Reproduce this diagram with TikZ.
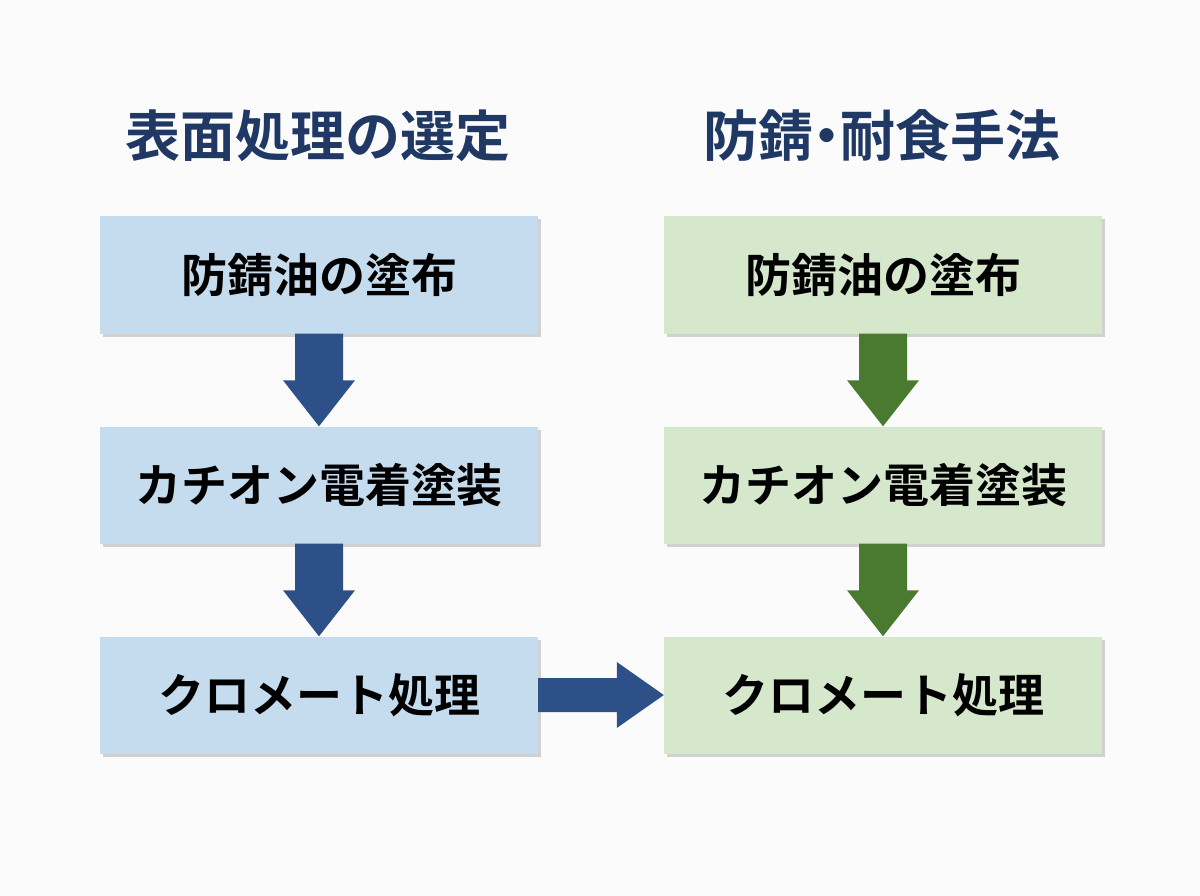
\documentclass[tikz,border=0pt]{standalone}
\usetikzlibrary{calc}
\usepackage{fontspec}
\newfontfamily\cjk{Noto Sans CJK JP}[BoldFont={* Bold}]
\definecolor{bfill}{HTML}{C5DCEF}
\definecolor{gfill}{HTML}{D6E8CB}
\definecolor{barr}{HTML}{2E5088}
\definecolor{garr}{HTML}{4A7A30}
\definecolor{ttl}{HTML}{1F3864}
\begin{document}
\begin{tikzpicture}[x=1pt,y=-1pt,
  box/.style={minimum width=438pt,minimum height=117pt,inner sep=0pt,font=\cjk\bfseries\fontsize{46}{50}\selectfont,
    preaction={fill=black!18,transform canvas={shift={(3pt,-3pt)}}}},
  ttl/.style={font=\cjk\bfseries\fontsize{55}{60}\selectfont,text=ttl}]
\fill[white!97!gray] (0,0) rectangle (1200,896);
\useasboundingbox (0,0) rectangle (1200,896);
\node[ttl] (t1) at (318,136) {表面処理の選定};
\node[ttl] (t2) at (882,136) {防錆\kern-0.25em・\kern-0.25em 耐食手法};
\foreach \n/\y/\t in {1/275/防錆油の塗布,2/485/カチオン電着塗装,3/695/クロメート処理}{
  \node[box,fill=bfill] (l\n) at (319,\y) {\t};
  \node[box,fill=gfill] (r\n) at (883,\y) {\t};
}
\foreach \a/\b/\x/\c in {l1/l2/319/barr,l2/l3/319/barr,r1/r2/883/garr,r2/r3/883/garr}{
  \path (\a.south) coordinate (s) (\b.north) coordinate (e);
  \fill[\c] ($(s)+(-24,0)$) -- ($(s)+(24,0)$) -- ($(e)+(24,-46)$) -- ($(e)+(36,-46)$) -- (e) -- ($(e)+(-36,-46)$) -- ($(e)+(-24,-46)$) -- cycle;
}
\path (l3.east) coordinate (s) (r3.west) coordinate (e);
\fill[barr] ($(s)+(0,-17)$) -- ($(e)+(-47,-17)$) -- ($(e)+(-47,-33)$) -- (e) -- ($(e)+(-47,33)$) -- ($(e)+(-47,17)$) -- ($(s)+(0,17)$) -- cycle;
\end{tikzpicture}
\end{document}
